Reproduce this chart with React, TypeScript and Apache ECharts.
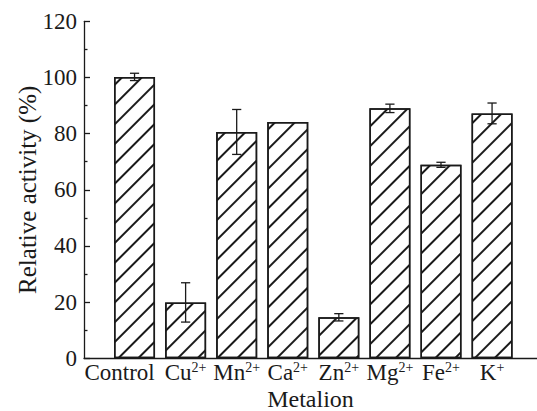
import React, { useEffect, useRef } from 'react';
import * as echarts from 'echarts';

const categories = ['Control', 'Cu', 'Mn', 'Ca', 'Zn', 'Mg', 'Fe', 'K'];
const charges = ['', '2+', '2+', '2+', '2+', '2+', '2+', '+'];
const activity = [100.2, 19.9, 80.6, 84.1, 14.6, 89.0, 68.9, 87.2];
const errors = [1.3, 7.0, 8.0, 0, 1.3, 1.5, 0.9, 3.7];
const yMin = 0;
const yMax = 120;
const yInterval = 20;

const FONT = "'Liberation Serif', 'Times New Roman', serif";
const INK = '#1a1a1a';

export default function App() {
  const ref = useRef<HTMLDivElement>(null);
  useEffect(() => {
    if (!ref.current) return;
    const chart = echarts.init(ref.current, undefined, { renderer: 'svg' });
    const gridTop = 21.3;
    const gridBottom = 52.7;
    chart.setOption({
      animation: false,
      backgroundColor: '#fff',
      textStyle: { fontFamily: FONT },
      grid: [
        { left: 84, right: 0, top: gridTop, bottom: gridBottom, outerBoundsMode: 'none', containLabel: false },
        { left: 109, right: 19.4, top: gridTop, bottom: gridBottom, outerBoundsMode: 'none', containLabel: false },
      ],
      xAxis: [
        {
          gridIndex: 0,
          type: 'value',
          min: 0,
          max: 1,
          axisLine: { show: true, lineStyle: { color: INK, width: 1.3 } },
          axisTick: { show: false },
          axisLabel: { show: false },
          splitLine: { show: false },
          name: 'Metalion',
          nameLocation: 'middle',
          nameGap: 33,
          nameMoveOverlap: false,
          nameTextStyle: { fontFamily: FONT, fontSize: 24, lineHeight: 16, color: INK },
        },
        {
          gridIndex: 1,
          type: 'category',
          data: categories.map((c, i) => c + (charges[i] ? '^' + charges[i] : '')),
          axisLine: { show: false },
          axisTick: { show: false },
          axisLabel: {
            margin: 2,
            interval: 0,
            formatter: (v: string) => {
              const parts = v.split('^');
              if (parts.length > 1) return `{b|${parts[0]}}{s|${parts[1]}}`;
              return `{c|${parts[0]}}`;
            },
            rich: {
              b: { fontFamily: FONT, fontSize: 23, color: INK, lineHeight: 24, verticalAlign: 'bottom' },
              c: { fontFamily: FONT, fontSize: 23, color: INK, lineHeight: 24, verticalAlign: 'bottom', padding: [0, 30, 0, 0] },
              s: { fontFamily: FONT, fontSize: 14, color: INK, lineHeight: 14, verticalAlign: 'top' },
            },
          },
          splitLine: { show: false },
        },
      ],
      yAxis: [
        {
          gridIndex: 0,
          type: 'value',
          min: yMin,
          max: yMax,
          interval: yInterval,
          axisLine: { show: true, lineStyle: { color: INK, width: 1.3 } },
          axisTick: { show: true, inside: true, length: 6, lineStyle: { color: INK, width: 1.3 } },
          minorTick: { show: true, splitNumber: 2, length: 3.5, lineStyle: { color: INK, width: 1.3 } },
          axisLabel: { margin: 7, fontFamily: FONT, fontSize: 23, color: INK },
          splitLine: { show: false },
          name: 'Relative activity (%)',
          nameLocation: 'middle',
          nameGap: 44,
          nameMoveOverlap: false,
          nameTextStyle: { fontFamily: FONT, fontSize: 25, color: INK },
        },
        {
          gridIndex: 1,
          type: 'value',
          min: yMin,
          max: yMax,
          show: false,
        },
      ],
      series: [
        {
          type: 'bar',
          xAxisIndex: 1,
          yAxisIndex: 1,
          data: activity,
          barWidth: 41,
          itemStyle: {
            color: '#fff',
            borderColor: INK,
            borderWidth: 1.5,
            decal: {
              symbol: 'rect',
              symbolSize: 1,
              color: INK,
              backgroundColor: '#fff',
              dashArrayX: [1, 0],
              dashArrayY: [1.4, 11.5],
              rotation: -Math.PI / 4,
            },
          },
        },
        {
          type: 'custom',
          xAxisIndex: 1,
          yAxisIndex: 1,
          z: 5,
          data: activity.map((v, i) => [i, v, errors[i]]),
          encode: { x: 0, y: 1 },
          renderItem: (params: any, api: any) => {
            const i = api.value(0);
            const v = api.value(1);
            const e = api.value(2);
            if (!e) return null;
            const top = api.coord([i, v + e]);
            const bot = api.coord([i, v - e]);
            const hw = 4.6;
            const style = { stroke: INK, lineWidth: 1.3 };
            return {
              type: 'group',
              children: [
                { type: 'line', shape: { x1: top[0], y1: top[1], x2: bot[0], y2: bot[1] }, style },
                { type: 'line', shape: { x1: top[0] - hw, y1: top[1], x2: top[0] + hw, y2: top[1] }, style },
                { type: 'line', shape: { x1: bot[0] - hw, y1: bot[1], x2: bot[0] + hw, y2: bot[1] }, style },
              ],
            };
          },
        },
      ],
    });
    return () => chart.dispose();
  }, []);
  return (
    <div
      ref={ref}
      style={{ position: 'fixed', left: 0, top: 0, width: 537, height: 411, background: '#fff' }}
    />
  );
}
